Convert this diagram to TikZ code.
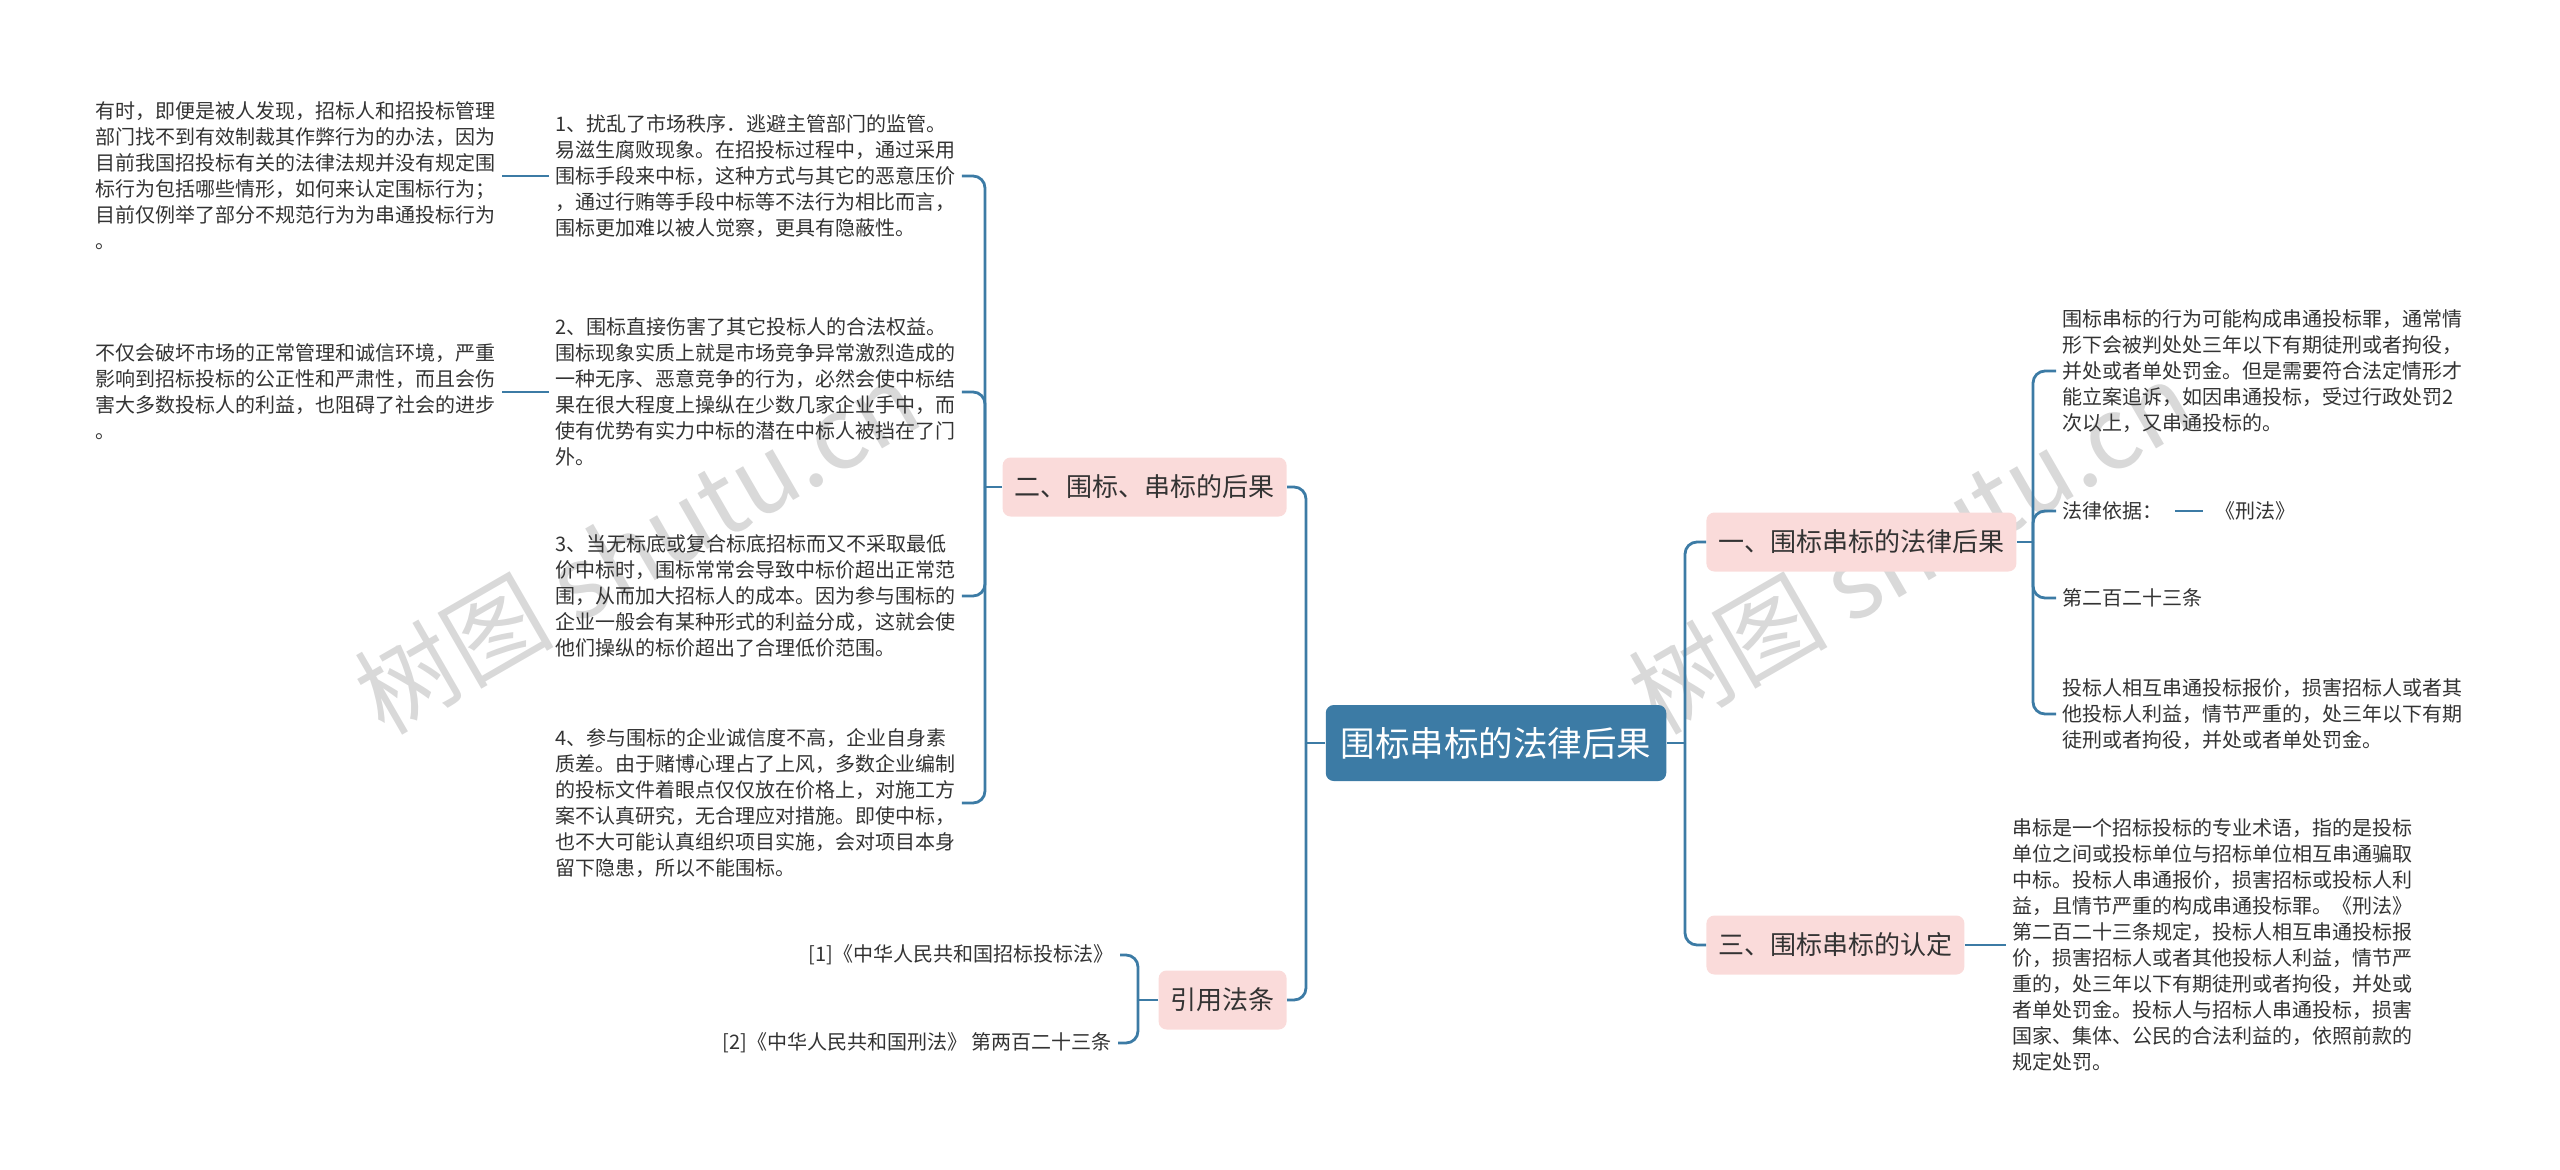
\documentclass[tikz,border=0pt]{standalone}
\usepackage{fontspec}
\usepackage{tikz}
\usetikzlibrary{positioning}
\newfontfamily\cjk{Noto Sans CJK SC}
\definecolor{mapblue}{HTML}{3C7BA5}
\definecolor{mappink}{HTML}{FADBDA}
\definecolor{maptext}{HTML}{333333}
\definecolor{markgray}{HTML}{D9D9D9}

\begin{document}
\begin{tikzpicture}[
                x=0.5pt, y=-0.5pt,
                every node/.style={font=\cjk, text=maptext},
                rootbox/.style={
                        fill=mapblue,
                        text=white,
                        rounded corners=4pt,
                        minimum height=38pt,
                        inner xsep=7.5pt,
                        font=\cjk\fontsize{17.25pt}{20pt}\selectfont
                    },
                topicbox/.style={
                        fill=mappink,
                        rounded corners=4pt,
                        minimum height=29.5pt,
                        inner xsep=6pt,
                        font=\cjk\fontsize{13pt}{16pt}\selectfont
                    },
                leaf/.style={
                        align=left,
                        inner xsep=3pt,
                        inner ysep=0pt,
                        font=\cjk\fontsize{10pt}{13pt}\selectfont
                    },
                link/.style={draw=mapblue, line width=1.4pt, rounded corners=6pt},
                wmark/.style={text=markgray, rotate=30, font=\cjk\fontsize{50pt}{60pt}\selectfont}
            ]

            \useasboundingbox (0,0) rectangle (2560,1169);

            % watermark
            \node[wmark] (wmleft) at (637,547) {树图 shutu.cn};
            \node[wmark] (wmright) at (1911,547) {树图 shutu.cn};

            % root and topics
            \node[rootbox] (root) at (1496,743) {围标串标的法律后果};
            \node[topicbox, anchor=east] (conseq) at (1287,487) {二、围标、串标的后果};
            \node[topicbox, anchor=east] (cite) at (1287,1000) {引用法条};
            \node[topicbox, anchor=west] (legal) at (1706,542) {一、围标串标的法律后果};
            \node[topicbox, anchor=west] (ident) at (1706,945) {三、围标串标的认定};

            % left side
            \node[leaf, anchor=west] (harm1) at (549,176) {1、扰乱了市场秩序．逃避主管部门的监管。\\易滋生腐败现象。在招投标过程中，通过采用\\围标手段来中标，这种方式与其它的恶意压价\\，通过行贿等手段中标等不法行为相比而言，\\围标更加难以被人觉察，更具有隐蔽性。};
            \node[leaf, anchor=west] (harm2) at (549,392) {2、围标直接伤害了其它投标人的合法权益。\\围标现象实质上就是市场竞争异常激烈造成的\\一种无序、恶意竞争的行为，必然会使中标结\\果在很大程度上操纵在少数几家企业手中，而\\使有优势有实力中标的潜在中标人被挡在了门\\外。};
            \node[leaf, anchor=west] (harm3) at (549,596) {3、当无标底或复合标底招标而又不采取最低\\价中标时，围标常常会导致中标价超出正常范\\围，从而加大招标人的成本。因为参与围标的\\企业一般会有某种形式的利益分成，这就会使\\他们操纵的标价超出了合理低价范围。};
            \node[leaf, anchor=west] (harm4) at (549,803) {4、参与围标的企业诚信度不高，企业自身素\\质差。由于赌博心理占了上风，多数企业编制\\的投标文件着眼点仅仅放在价格上，对施工方\\案不认真研究，无合理应对措施。即使中标，\\也不大可能认真组织项目实施，会对项目本身\\留下隐患，所以不能围标。};
            \node[leaf, left=23.5pt of harm1] (note1) {有时，即便是被人发现，招标人和招投标管理\\部门找不到有效制裁其作弊行为的办法，因为\\目前我国招投标有关的法律法规并没有规定围\\标行为包括哪些情形，如何来认定围标行为；\\目前仅例举了部分不规范行为为串通投标行为\\。};
            \node[leaf, left=23.5pt of harm2] (note2) {不仅会破坏市场的正常管理和诚信环境，严重\\影响到招标投标的公正性和严肃性，而且会伤\\害大多数投标人的利益，也阻碍了社会的进步\\。};
            \node[leaf, anchor=east] (law1) at (1120,955) {[1]《中华人民共和国招标投标法》};
            \node[leaf, anchor=east] (law2) at (1118,1043) {[2]《中华人民共和国刑法》 第两百二十三条};

            % right side
            \node[leaf, anchor=west] (crime) at (2056,371) {围标串标的行为可能构成串通投标罪，通常情\\形下会被判处处三年以下有期徒刑或者拘役，\\并处或者单处罚金。但是需要符合法定情形才\\能立案追诉，如因串通投标，受过行政处罚2\\次以上，又串通投标的。};
            \node[leaf, anchor=west] (basis) at (2056,511) {法律依据：};
            \node[leaf, right=20pt of basis] (code) {《刑法》};
            \node[leaf, anchor=west] (article) at (2056,598) {第二百二十三条};
            \node[leaf, anchor=west] (penalty) at (2056,714) {投标人相互串通投标报价，损害招标人或者其\\他投标人利益，情节严重的，处三年以下有期\\徒刑或者拘役，并处或者单处罚金。};
            \node[leaf, right=20.5pt of ident] (define) {串标是一个招标投标的专业术语，指的是投标\\单位之间或投标单位与招标单位相互串通骗取\\中标。投标人串通报价，损害招标或投标人利\\益，且情节严重的构成串通投标罪。《刑法》\\第二百二十三条规定，投标人相互串通投标报\\价，损害招标人或者其他投标人利益，情节严\\重的，处三年以下有期徒刑或者拘役，并处或\\者单处罚金。投标人与招标人串通投标，损害\\国家、集体、公民的合法利益的，依照前款的\\规定处罚。};

            % buses
            \coordinate (lbus) at (1306,743);
            \coordinate (rbus) at (1685,743);
            \coordinate (cbus) at (985,487);
            \coordinate (fbus) at (1138,1000);
            \coordinate (gbus) at (2033,542);

            \draw[link] (root.west) -- (lbus);
            \draw[link] (lbus) |- (conseq.east);
            \draw[link] (lbus) |- (cite.east);
            \draw[link] (root.east) -- (rbus);
            \draw[link] (rbus) |- (legal.west);
            \draw[link] (rbus) |- (ident.west);

            \draw[link] (conseq.west) -- (cbus);
            \draw[link] (cbus) |- (harm1.east);
            \draw[link] (cbus) |- (harm2.east);
            \draw[link] (cbus) |- (harm3.east);
            \draw[link] (cbus) |- (harm4.east);
            \draw[link] (harm1.west) -- (note1.east);
            \draw[link] (harm2.west) -- (note2.east);

            \draw[link] (cite.west) -- (fbus);
            \draw[link] (fbus) |- (law1.east);
            \draw[link] (fbus) |- (law2.east);

            \draw[link] (legal.east) -- (gbus);
            \draw[link] (gbus) |- (crime.west);
            \draw[link] (gbus) |- (basis.west);
            \draw[link] (gbus) |- (article.west);
            \draw[link] (gbus) |- (penalty.west);
            \draw[link, shorten <=3pt, shorten >=3pt] (basis.east) -- (code.west);

            \draw[link] (ident.east) -- (define.west);

        \end{tikzpicture}
\end{document}
